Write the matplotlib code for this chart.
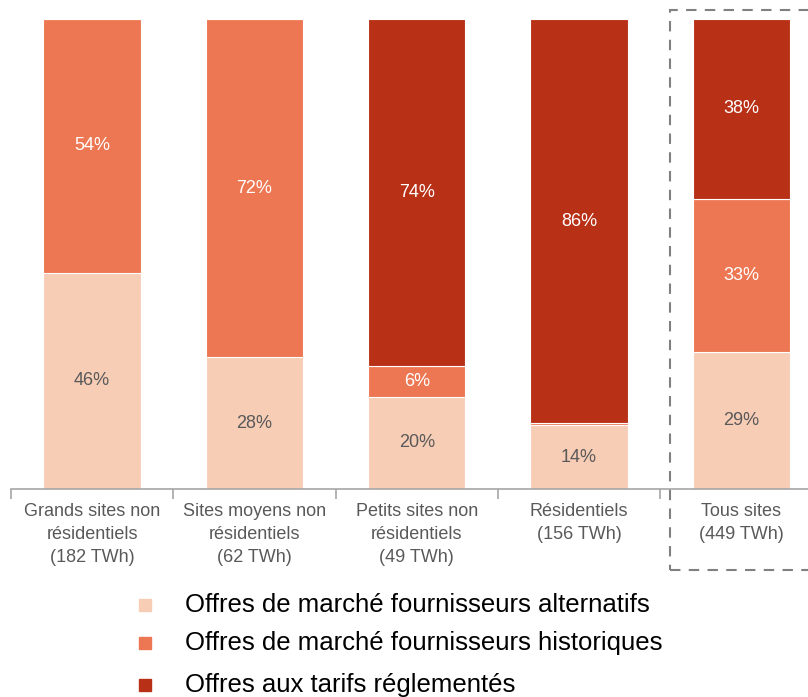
import matplotlib.pyplot as plt
from matplotlib.patches import Rectangle

# data
categories = ["Grands sites non\nrésidentiels\n(182 TWh)",
              "Sites moyens non\nrésidentiels\n(62 TWh)",
              "Petits sites non\nrésidentiels\n(49 TWh)",
              "Résidentiels\n(156 TWh)",
              "Tous sites\n(449 TWh)"]
alternatifs = [46, 28, 19.6, 13.6, 29.2]
historiques = [54, 72, 6.6, 0.4, 32.6]
reglementes = [0, 0, 73.8, 86, 38.2]
lab_alt = ["46%", "28%", "20%", "14%", "29%"]
lab_hist = ["54%", "72%", "6%", "", "33%"]
lab_reg = ["", "", "74%", "86%", "38%"]
series_names = ["Offres de marché fournisseurs alternatifs",
                "Offres de marché fournisseurs historiques",
                "Offres aux tarifs réglementés"]

plt.rcParams['font.family'] = ["Liberation Sans", "DejaVu Sans"]

c_alt, c_hist, c_reg = "#F8CDB6", "#EC7752", "#B83117"
grey = "#595959"

W, H = 808, 697
unit = 162.3  # px per category
fig = plt.figure(figsize=(W / 100, H / 100), dpi=100)
ax = fig.add_axes([11 / W, (H - 489) / H, (W - 11) / W, 470 / H])
x = list(range(len(categories)))
bw = 0.6

ax.bar(x, alternatifs, bw, color=c_alt, edgecolor="white", linewidth=0.8)
b2 = [a for a in alternatifs]
ax.bar(x, historiques, bw, bottom=b2, color=c_hist, edgecolor="white", linewidth=0.8)
b3 = [a + h for a, h in zip(alternatifs, historiques)]
ax.bar(x, reglementes, bw, bottom=b3, color=c_reg, edgecolor="white", linewidth=0.8)

for i in x:
    if lab_alt[i]:
        ax.text(i, alternatifs[i] / 2, lab_alt[i], ha="center", va="center", fontsize=13, color=grey)
    if lab_hist[i]:
        ax.text(i, b2[i] + historiques[i] / 2, lab_hist[i], ha="center", va="center", fontsize=13, color="white")
    if lab_reg[i]:
        ax.text(i, b3[i] + reglementes[i] / 2, lab_reg[i], ha="center", va="center", fontsize=13, color="white")

for s in ["top", "right", "left"]:
    ax.spines[s].set_visible(False)
ax.spines["bottom"].set_color("#A6A6A6")
ax.spines["bottom"].set_linewidth(1.2)
ax.set_yticks([])
ax.set_xticks([i - 0.5 for i in range(6)])
ax.set_xticklabels([])
ax.tick_params(axis="x", length=7, color="#A6A6A6", width=1.2)
# limits after ticks, otherwise set_xticks widens the view
ax.set_xlim(-0.5, -0.5 + (W - 11) / unit)
ax.set_ylim(0, 100)
for i, c in enumerate(categories):
    ax.text(i, -3.0, c, ha="center", va="top", fontsize=13, color=grey, linespacing=1.45)

# dashed box around total
fig.patches.append(Rectangle((670 / W, (H - 570) / H), 150 / W, 560 / H, transform=fig.transFigure,
                             fill=False, edgecolor="#808080", linestyle=(0, (5, 4)), linewidth=1.5))

# legend
cols = [c_alt, c_hist, c_reg]
ys = [605, 643, 685]
for name, col, yy in zip(series_names, cols, ys):
    fig.patches.append(Rectangle((139 / W, (H - yy - 6) / H), 12 / W, 12 / H, transform=fig.transFigure,
                                 color=col))
    fig.text(185 / W, (H - yy) / H, name, ha="left", va="center", fontsize=18.5, color="black")

fig.savefig("out.png", dpi=100)
